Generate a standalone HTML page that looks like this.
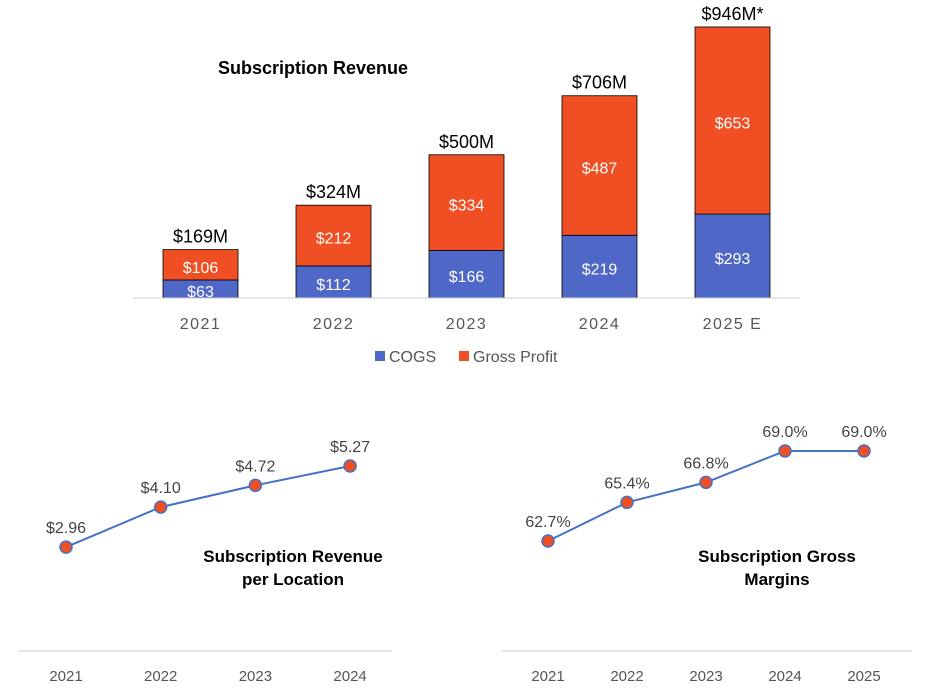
<!DOCTYPE html>
<html><head><meta charset="utf-8">
<style>
body{margin:0;background:#fff;width:925px;height:693px;overflow:hidden;font-family:"Liberation Sans",sans-serif}
svg text{font-family:"Liberation Sans",sans-serif}
</style></head>
<body>
<svg id="c" width="925" height="693"></svg>
<script>
const years=['2021','2022','2023','2024','2025 E'];
const cogs=[63,112,166,219,293];
const gp=[106,212,334,487,653];
const totals=['$169M','$324M','$500M','$706M','$946M*'];
const plYears=['2021','2022','2023','2024'];
const perLoc=[2.96,4.10,4.72,5.27];
const gmYears=['2021','2022','2023','2024','2025'];
const gm=[62.7,65.4,66.8,69.0,69.0];

const NS='http://www.w3.org/2000/svg';
const svg=document.getElementById('c');
function el(t,a,txt){const e=document.createElementNS(NS,t);for(const k in a)e.setAttribute(k,a[k]);if(txt!==undefined)e.textContent=txt;svg.appendChild(e);return e;}

const bx=i=>163+i*133, bw=75, base=298, k=0.2865;
const by=v=>base-v*k;
let e=el('text',{x:218,y:74,'font-size':18,'font-weight':'bold',fill:'#000'},'Subscription Revenue');

years.forEach((y,i)=>{
  const x=bx(i);
  let r=el('rect',{x:x,y:by(cogs[i]),width:bw,height:cogs[i]*k,fill:'#4F67C6',stroke:'#000','stroke-width':0.8});
  
  r=el('rect',{x:x,y:by(cogs[i]+gp[i]),width:bw,height:gp[i]*k,fill:'#F04F23',stroke:'#000','stroke-width':0.8});
  
  let t=el('text',{x:x+bw/2,y:by(cogs[i]/2)+8,'text-anchor':'middle','font-size':16,fill:'#fff'},'$'+cogs[i]);
  
  t=el('text',{x:x+bw/2,y:by(cogs[i]+gp[i]/2)+8,'text-anchor':'middle','font-size':16,fill:'#fff'},'$'+gp[i]);
  
  t=el('text',{x:x+bw/2,y:by(cogs[i]+gp[i])-7,'text-anchor':'middle','font-size':18,fill:'#000'},totals[i]);
  
  t=el('text',{x:x+bw/2,y:329,'text-anchor':'middle','font-size':16,fill:'#555','letter-spacing':1.5},y);
  
});
e=el('line',{x1:133,y1:base,x2:800,y2:base,stroke:'#ccc','stroke-width':1});

e=el('rect',{x:375,y:351,width:10,height:10,fill:'#4F67C6'});

e=el('text',{x:389,y:362,'font-size':16,fill:'#555'},'COGS');

e=el('rect',{x:459,y:351,width:10,height:10,fill:'#F04F23'});

e=el('text',{x:473,y:362,'font-size':16,fill:'#555'},'Gross Profit');


function lineChart(name,cats,vals,xs,yf,fmt,ax1,ax2,titles,tx){
  let a=el('line',{x1:ax1,y1:651,x2:ax2,y2:651,stroke:'#ccc','stroke-width':1});
  
  const pts=vals.map((v,i)=>xs(i)+','+yf(v)).join(' ');
  let p=el('polyline',{points:pts,fill:'none',stroke:'#4472C4','stroke-width':2});
  
  vals.forEach((v,i)=>{
    let c=el('circle',{cx:xs(i),cy:yf(v),r:6,fill:'#F04F23',stroke:'#4472C4','stroke-width':1.5});
    
    let t=el('text',{x:xs(i),y:yf(v)-14,'text-anchor':'middle','font-size':16,fill:'#444'},fmt(v));
    
    t=el('text',{x:xs(i),y:681,'text-anchor':'middle','font-size':15,fill:'#555'},cats[i]);
    
  });
  titles.forEach((s,j)=>{
    let t=el('text',{x:tx,y:562+j*23,'text-anchor':'middle','font-size':17,'font-weight':'bold',fill:'#000'},s);
    
  });
}
lineChart('per-location',plYears,perLoc,i=>66+i*94.7,v=>651-v*35.1,v=>'$'+v.toFixed(2),18,392,['Subscription Revenue','per Location'],293);
lineChart('gross-margin',gmYears,gm,i=>548+i*79,v=>651-(v-55)*14.29,v=>v.toFixed(1)+'%',502,912,['Subscription Gross','Margins'],777);
</script>
</body></html>
